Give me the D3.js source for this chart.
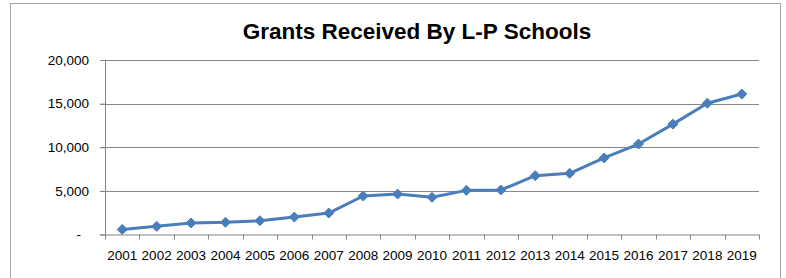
<!DOCTYPE html>
<html>
<head>
<meta charset="utf-8">
<script src="https://cdn.jsdelivr.net/npm/d3@7/dist/d3.min.js"></script>
<style>
  body { margin: 0; background: #fff; }
  svg { display: block; }
  text { font-family: "Liberation Sans", Arial, sans-serif; fill: #000; }
</style>
</head>
<body>
<script>
// Chart data
const years = ["2001", "2002", "2003", "2004", "2005", "2006", "2007", "2008", "2009", "2010",
               "2011", "2012", "2013", "2014", "2015", "2016", "2017", "2018", "2019"];
const grants = [580, 940, 1320, 1400, 1580, 2000, 2460, 4410, 4640, 4260,
                5060, 5100, 6740, 7010, 8770, 10370, 12650, 15050, 16100];
const yTicks = [0, 5000, 10000, 15000, 20000];
const title = "Grants Received By L-P Schools";

(function() {
  const W = 786, H = 278;
  const margin = { top: 60, right: 27, bottom: 43.5, left: 105 };
  const width = W - margin.left - margin.right;
  const height = H - margin.top - margin.bottom;

  const svg = d3.select("body").append("svg")
    .attr("width", W)
    .attr("height", H);

  // outer chart border
  svg.append("rect")
    .attr("x", 10.5).attr("y", 3.5)
    .attr("width", 770).attr("height", 290)
    .attr("fill", "none")
    .attr("stroke", "#a6a6a6")
    .attr("stroke-width", 1);

  svg.append("text")
    .attr("x", 417)
    .attr("y", 39)
    .attr("text-anchor", "middle")
    .style("font-size", "22.5px")
    .style("font-weight", "bold")
    .text(title);

  const g = svg.append("g")
    .attr("transform", `translate(${margin.left},${margin.top})`);

  const x = d3.scaleBand().domain(years).range([0, width]);
  const y = d3.scaleLinear().domain([0, 20000]).range([height, 0]);

  // gridlines
  g.append("g")
    .selectAll("line")
    .data(yTicks.filter(d => d > 0))
    .join("line")
    .attr("x1", -5).attr("x2", width)
    .attr("y1", d => Math.round(y(d)) + 0.5)
    .attr("y2", d => Math.round(y(d)) + 0.5)
    .attr("stroke", "#868686");

  // y axis
  const yAxis = g.append("g")
    .call(d3.axisLeft(y).tickValues(yTicks).tickSize(5)
      .tickFormat(d => d === 0 ? "-" : d3.format(",")(d)));
  yAxis.select(".domain").attr("stroke", "#868686");
  yAxis.selectAll(".tick line").attr("stroke", "#868686");
  yAxis.selectAll(".tick text")
    .style("font-size", "13.5px")
    .attr("x", d => d === 0 ? -24 : -16);

  // x axis with ticks at category boundaries
  const xAxis = g.append("g")
    .attr("transform", `translate(0,${height})`)
    .call(d3.axisBottom(x).tickSize(0));
  xAxis.select(".domain").attr("stroke", "#868686");
  xAxis.selectAll(".tick text")
    .style("font-size", "13.5px")
    .attr("dy", "0.71em")
    .attr("y", 16);
  xAxis.selectAll(".boundary")
    .data(d3.range(years.length + 1))
    .join("line")
    .attr("class", "boundary")
    .attr("x1", i => Math.round(i * x.step()) + 0.5)
    .attr("x2", i => Math.round(i * x.step()) + 0.5)
    .attr("y1", 0).attr("y2", 5)
    .attr("stroke", "#868686");

  const cx = d => x(d) + x.bandwidth() / 2;

  // line
  const line = d3.line()
    .x((d, i) => cx(years[i]))
    .y(d => y(d));

  g.append("path")
    .datum(grants)
    .attr("fill", "none")
    .attr("stroke", "#4a7ebb")
    .attr("stroke-width", 3)
    .attr("stroke-linejoin", "round")
    .attr("d", line);

  // diamond markers
  g.selectAll(".marker")
    .data(grants)
    .join("path")
    .attr("class", "marker")
    .attr("transform", (d, i) => `translate(${cx(years[i])},${y(d)})`)
    .attr("d", "M0,-5L5,0L0,5L-5,0Z")
    .attr("fill", "#4a7ebb")
    .attr("stroke", "#4a7ebb")
    .attr("stroke-width", 1);
})();
</script>
</body>
</html>
